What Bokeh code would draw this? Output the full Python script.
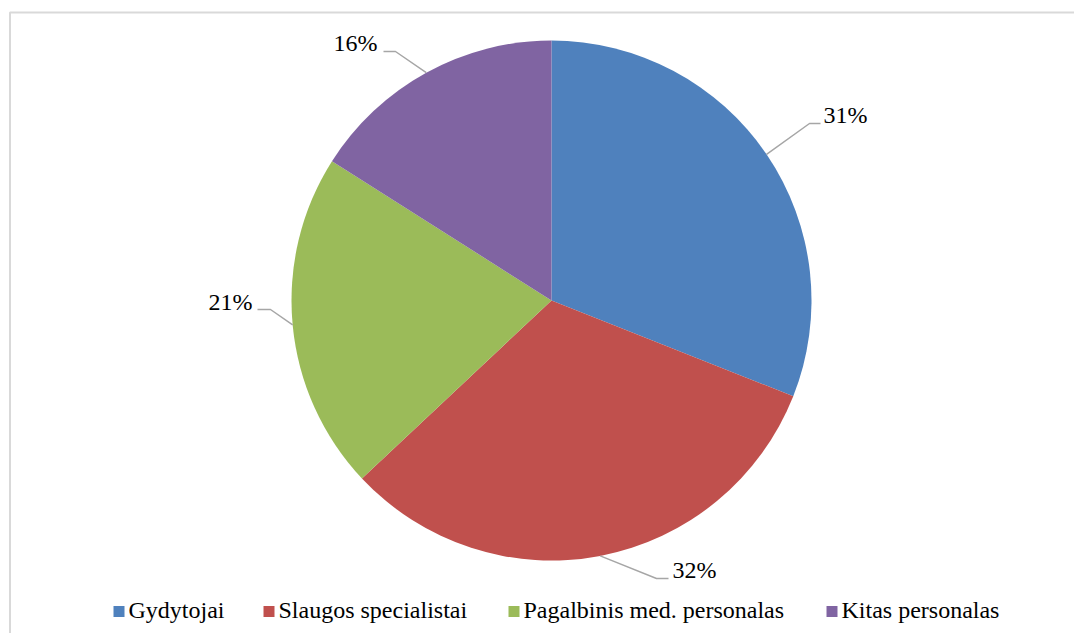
import math
from bokeh.plotting import figure
from bokeh.models import ColumnDataSource, Range1d
from bokeh.embed import file_html
from bokeh.resources import INLINE

# ---- data ----
categories = ["Gydytojai", "Slaugos specialistai", "Pagalbinis med. personalas", "Kitas personalas"]
shares = [31, 32, 21, 16]
colors = ["#4f81bd", "#c0504d", "#9bbb59", "#8064a2"]

# ---- layout (picture pixel coordinates; y is negated screen y) ----
W, H = 1074, 633
CX, CY, R = 551, -300, 260
# label layout: (text x, text middle y, align, elbow x, inner end x of horizontal segment, segment y)
label_layout = [
    (823, 114, "left", 809, 820, 123),
    (672, 569, "left", 656, 668, 578),
    (252, 301, "right", 270, 257, 309),
    (377, 42, "right", 395, 383, 51),
]
legend_left = [113, 263, 508, 826]   # swatch left edges
LEG_Y, SW, GAP = 611, 11, 15
FONT = "Liberation Serif"

total = sum(shares)
starts, ends, mids = [], [], []
acc = 0
for s in shares:
    a0 = math.pi / 2 - 2 * math.pi * acc / total
    acc += s
    a1 = math.pi / 2 - 2 * math.pi * acc / total
    starts.append(a0)
    ends.append(a1)
    mids.append((a0 + a1) / 2)

p = figure(width=W, height=H, output_backend="svg", toolbar_location=None,
           x_range=Range1d(0, W), y_range=Range1d(-H, 0),
           x_axis_type=None, y_axis_type=None, min_border=0,
           outline_line_color=None, background_fill_color="white",
           border_fill_color="white")
p.grid.visible = False

# chart-area border (top and left edges visible)
p.line(x=[9.5, 9.5, 1200], y=[-700, -12, -12], line_color="#d9d9d9", line_width=2)

src = ColumnDataSource(dict(cat=categories, share=shares, color=colors,
                            start=starts, end=ends))
p.wedge(x=CX, y=CY, radius=R, start_angle="start", end_angle="end",
        direction="clock", fill_color="color", line_color=None, source=src)

# leader lines
xs, ys = [], []
for m, (tx, ty, al, ex, hx, hy) in zip(mids, label_layout):
    px = CX + R * math.cos(m)
    py = CY + R * math.sin(m)
    xs.append([px, ex, hx])
    ys.append([py, -hy, -hy])
p.multi_line(xs=xs, ys=ys, line_color="#a6a6a6", line_width=1.5)

# percentage labels
lsrc = ColumnDataSource(dict(
    x=[l[0] for l in label_layout],
    y=[-l[1] for l in label_layout],
    t=[f"{s}%" for s in shares],
    a=[l[2] for l in label_layout],
    f=[FONT] * len(shares),
))
p.text(x="x", y="y", text="t", text_align="a", text_baseline="middle",
       text_font="f", text_font_size="24px", text_color="#000000", source=lsrc)

# legend (swatches + labels)
gsrc = ColumnDataSource(dict(
    sx=[x + SW / 2 for x in legend_left],
    sy=[-LEG_Y] * len(categories),
    tx=[x + GAP for x in legend_left],
    ty=[-(LEG_Y - 2)] * len(categories),
    cat=categories,
    color=colors,
    f=[FONT] * len(categories),
))
p.rect(x="sx", y="sy", width=SW, height=SW, fill_color="color", line_color=None, source=gsrc)
p.text(x="tx", y="ty", text="cat", text_align="left", text_baseline="middle",
       text_font="f", text_font_size="24px", text_color="#000000", source=gsrc)

open("out.html", "w").write(file_html(p, INLINE))
